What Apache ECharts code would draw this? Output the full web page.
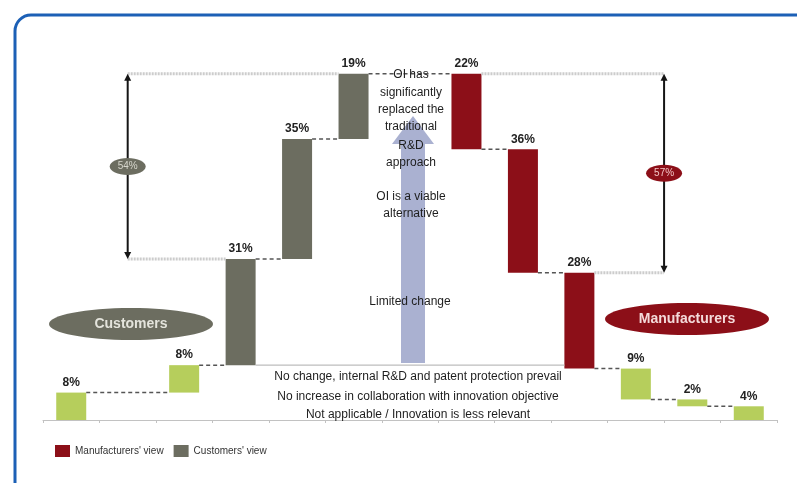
<!DOCTYPE html>
<html>
<head>
<meta charset="utf-8">
<script src="https://cdn.jsdelivr.net/npm/echarts@6/dist/echarts.min.js"></script>
<style>
  html, body { margin: 0; padding: 0; background: #ffffff; }
  #chart { width: 797px; height: 483px; }
</style>
</head>
<body>
<div id="chart"></div>
<script>
// Thirteen bands along the axis: customers climb on the left, manufacturers fall on the right
const slotNames = ['', '', '', '', '', '', '', '', '', '', '', '', ''];

const customerSlots = [0, 2, 3, 4, 5];
const customerValues = [8, 8, 31, 35, 19];
const customerKinds = ['light', 'light', 'main', 'main', 'main'];

const manufacturerSlots = [7, 8, 9, 10, 11, 12];
const manufacturerValues = [22, 36, 28, 9, 2, 4];
const manufacturerKinds = ['main', 'main', 'main', 'light', 'light', 'light'];

// bracket positions: band index plus a shift in band widths
const bracketSlots = [1, 10];
const bracketShifts = [0, 0.5];
const bracketLabels = ['54%', '57%'];

const groupNames = ['Customers', 'Manufacturers'];
const legendNames = ["Manufacturers' view", "Customers' view"];

const topNotes = ['OI has', 'significantly', 'replaced the', 'traditional', 'R&D', 'approach', '', 'OI is a viable', 'alternative'];
const middleNote = 'Limited change';
const bottomNotes = [
  'No change, internal R&D and patent protection prevail',
  'No increase in collaboration with innovation objective',
  'Not applicable / Innovation is less relevant'
];

const RED = '#8c0f18';
const GREY = '#6c6d60';
const GREEN = '#b6ce5c';
const HALF = 15; // half of the bar width in px
const FONT = '"Liberation Sans", Arial, sans-serif';

// ---- waterfall levels ----
const custBase = [], custTop = [];
let run = 0;
customerValues.forEach(v => { custBase.push(run); run += v; custTop.push(run); });
const manTotal = manufacturerValues.reduce((a, b) => a + b, 0);
const manBase = [], manTop = [];
run = manTotal;
manufacturerValues.forEach(v => { manTop.push(run); run -= v; manBase.push(run); });

const blank = () => slotNames.map(() => '-');
const baseData = blank(), greyData = blank(), redData = blank(), greenData = blank();
customerSlots.forEach((s, i) => {
  baseData[s] = custBase[i];
  (customerKinds[i] === 'main' ? greyData : greenData)[s] = customerValues[i];
});
manufacturerSlots.forEach((s, i) => {
  baseData[s] = manBase[i];
  (manufacturerKinds[i] === 'main' ? redData : greenData)[s] = manufacturerValues[i];
});

// ---- connector lines: slot, bar-edge offset (-1/0/+1), band shift, level ----
const links = [];
for (let i = 0; i < customerSlots.length - 1; i++) {
  links.push({ s1: customerSlots[i], o1: 1, s2: customerSlots[i + 1], o2: -1, level: custTop[i], kind: 'dash' });
}
links.push({ s1: customerSlots[customerSlots.length - 1], o1: 1, s2: manufacturerSlots[0], o2: -1,
  level: custTop[custTop.length - 1], kind: 'dash' });
for (let j = 0; j < manufacturerSlots.length - 1; j++) {
  links.push({ s1: manufacturerSlots[j], o1: 1, s2: manufacturerSlots[j + 1], o2: -1, level: manBase[j], kind: 'dash' });
}
// guides from the bracket ends to the bars they measure
links.push({ s1: bracketSlots[0], o1: 0, b1: bracketShifts[0], s2: customerSlots[4], o2: -1, level: custTop[4], kind: 'dot' });
links.push({ s1: bracketSlots[0], o1: 0, b1: bracketShifts[0], s2: customerSlots[2], o2: -1, level: custTop[2], kind: 'dot' });
links.push({ s1: manufacturerSlots[0], o1: 1, s2: bracketSlots[1], o2: 0, b2: bracketShifts[1], level: manTop[0], kind: 'dot' });
links.push({ s1: manufacturerSlots[2], o1: 1, s2: bracketSlots[1], o2: 0, b2: bracketShifts[1], level: manTop[2], kind: 'dot' });
// floor line under the central notes
links.push({ s1: customerSlots[2], o1: 1, s2: manufacturerSlots[2], o2: -1, level: custBase[2], kind: 'floor' });

const linkStyles = {
  dash: { stroke: '#555555', lineWidth: 1.5, lineDash: [4, 3] },
  dot: { stroke: '#cccccc', lineWidth: 3, lineDash: [2, 1] },
  floor: { stroke: '#bdbdbd', lineWidth: 1.2 }
};

const brackets = [
  { slot: bracketSlots[0], shift: bracketShifts[0], low: custTop[2], high: custTop[4], label: bracketLabels[0], fill: GREY, text: '#d6d6cc' },
  { slot: bracketSlots[1], shift: bracketShifts[1], low: manTop[2], high: manTop[0], label: bracketLabels[1], fill: RED, text: '#f2c4c4' }
];

const chart = echarts.init(document.getElementById('chart'), null, { renderer: 'canvas' });

const barLabel = {
  show: true, position: 'top', distance: 4,
  fontFamily: FONT, fontSize: 12, fontWeight: 'bold', color: '#222222',
  formatter: p => p.value + '%'
};

const graphics = [
  { type: 'rect', shape: { x: 15, y: 15, width: 800, height: 490, r: 16 },
    style: { fill: 'none', stroke: '#1c60b6', lineWidth: 3 }, z: 1 },
  // upward arrow
  { type: 'polygon', z: 1,
    shape: { points: [[401, 363], [425, 363], [425, 144], [434, 144], [413, 116], [392, 144], [401, 144]] },
    style: { fill: '#aab1d1' } },
  { type: 'ellipse', shape: { cx: 131, cy: 324, rx: 82, ry: 16 }, style: { fill: GREY }, z: 5 },
  { type: 'text', x: 131, y: 324, z: 6,
    style: { text: groupNames[0], fill: '#e4e4dc', font: 'bold 14px ' + FONT, align: 'center', verticalAlign: 'middle' } },
  { type: 'ellipse', shape: { cx: 687, cy: 319, rx: 82, ry: 16 }, style: { fill: RED }, z: 5 },
  { type: 'text', x: 687, y: 319, z: 6,
    style: { text: groupNames[1], fill: '#f4dada', font: 'bold 14px ' + FONT, align: 'center', verticalAlign: 'middle' } }
];
const topY = [75, 93, 110, 127, 146, 163, 180, 197, 214];
topNotes.forEach((t, i) => {
  if (!t) return;
  graphics.push({ type: 'text', x: 411, y: topY[i], z: 50,
    style: { text: t, fill: '#1e1e1e', font: '12px ' + FONT, align: 'center', verticalAlign: 'middle' } });
});
graphics.push({ type: 'text', x: 410, y: 302, z: 50,
  style: { text: middleNote, fill: '#1e1e1e', font: '12px ' + FONT, align: 'center', verticalAlign: 'middle' } });
const bottomY = [377, 397, 415];
bottomNotes.forEach((t, i) => {
  graphics.push({ type: 'text', x: 418, y: bottomY[i], z: 50,
    style: { text: t, fill: '#1e1e1e', font: '12px ' + FONT, align: 'center', verticalAlign: 'middle' } });
});

chart.setOption({
  animation: false,
  backgroundColor: '#ffffff',
  grid: { left: 43, right: 20, top: 43, bottom: 63 },
  legend: {
    data: legendNames, left: 50, top: 440, icon: 'rect',
    itemWidth: 15, itemHeight: 12, itemGap: 10,
    textStyle: { fontFamily: FONT, fontSize: 10, color: '#333333' }
  },
  xAxis: {
    type: 'category', data: slotNames,
    axisLine: { lineStyle: { color: '#c2c2c2', width: 1 } },
    axisTick: { show: true, length: 3, lineStyle: { color: '#c2c2c2' } },
    axisLabel: { show: false }
  },
  yAxis: { type: 'value', min: 0, max: 110, show: false, splitLine: { show: false } },
  graphic: graphics,
  series: [
    { name: 'base', type: 'bar', stack: 'fall', data: baseData, barWidth: 30,
      itemStyle: { color: 'transparent' }, silent: true },
    { name: legendNames[1], type: 'bar', stack: 'fall', data: greyData, barWidth: 30,
      itemStyle: { color: GREY }, label: barLabel },
    { name: legendNames[0], type: 'bar', stack: 'fall', data: redData, barWidth: 30,
      itemStyle: { color: RED }, label: barLabel },
    { name: 'light', type: 'bar', stack: 'fall', data: greenData, barWidth: 30,
      itemStyle: { color: GREEN }, label: barLabel },
    { name: 'links', type: 'custom', silent: true, z: 3,
      data: links.map(l => [l.s1, l.level]),
      encode: { x: 0, y: 1 },
      renderItem(params, api) {
        const l = links[params.dataIndex];
        const band = api.size([1, 0])[0];
        const p1 = api.coord([l.s1, l.level]);
        const p2 = api.coord([l.s2, l.level]);
        const x1 = p1[0] + l.o1 * HALF + (l.b1 || 0) * band;
        const x2 = p2[0] + l.o2 * HALF + (l.b2 || 0) * band;
        return {
          type: 'line',
          shape: { x1: x1, y1: p1[1], x2: x2, y2: p2[1] },
          style: linkStyles[l.kind]
        };
      }
    },
    { name: 'brackets', type: 'custom', silent: true, z: 4,
      data: brackets.map(b => [b.slot, b.high]),
      encode: { x: 0, y: 1 },
      renderItem(params, api) {
        const b = brackets[params.dataIndex];
        const band = api.size([1, 0])[0];
        const hi = api.coord([b.slot, b.high]);
        const lo = api.coord([b.slot, b.low]);
        const x = hi[0] + b.shift * band;
        const mid = (hi[1] + lo[1]) / 2;
        return {
          type: 'group',
          children: [
            { type: 'line', shape: { x1: x, y1: hi[1] + 5, x2: x, y2: lo[1] - 5 },
              style: { stroke: '#151515', lineWidth: 2 } },
            { type: 'polygon', shape: { points: [[x, hi[1]], [x - 3.5, hi[1] + 7], [x + 3.5, hi[1] + 7]] },
              style: { fill: '#151515' } },
            { type: 'polygon', shape: { points: [[x, lo[1]], [x - 3.5, lo[1] - 7], [x + 3.5, lo[1] - 7]] },
              style: { fill: '#151515' } },
            { type: 'ellipse', shape: { cx: x, cy: mid, rx: 18, ry: 8.5 }, style: { fill: b.fill } },
            { type: 'text', x: x, y: mid,
              style: { text: b.label, fill: b.text, font: '10px ' + FONT, align: 'center', verticalAlign: 'middle' } }
          ]
        };
      }
    }
  ]
});
</script>
</body>
</html>
